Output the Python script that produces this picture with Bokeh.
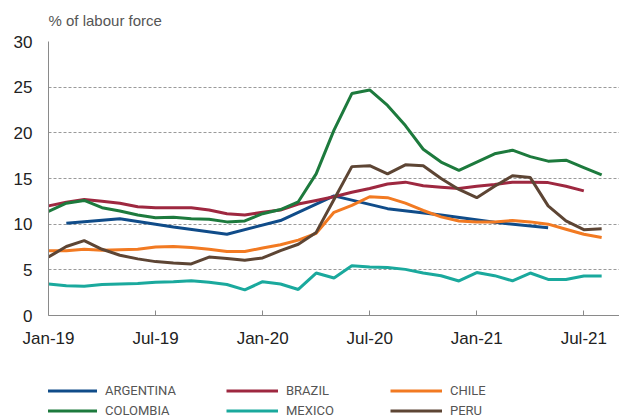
from bokeh.plotting import figure
from bokeh.models import Legend, LegendItem, FixedTicker, Range1d
from bokeh.layouts import column
from bokeh.embed import file_html
from bokeh.resources import INLINE

nan = float("nan")

months = ["Jan-19", "Feb-19", "Mar-19", "Apr-19", "May-19", "Jun-19", "Jul-19", "Aug-19",
          "Sep-19", "Oct-19", "Nov-19", "Dec-19", "Jan-20", "Feb-20", "Mar-20", "Apr-20",
          "May-20", "Jun-20", "Jul-20", "Aug-20", "Sep-20", "Oct-20", "Nov-20", "Dec-20",
          "Jan-21", "Feb-21", "Mar-21", "Apr-21", "May-21", "Jun-21", "Jul-21", "Aug-21"]

tick_labels = ["Jan-19", "Jul-19", "Jan-20", "Jul-20", "Jan-21", "Jul-21"]

# Argentina: quarterly observations
argentina_months = ["Feb-19", "May-19", "Aug-19", "Nov-19", "Feb-20", "May-20",
                    "Aug-20", "Nov-20", "Feb-21", "May-21"]
argentina = [10.1, 10.6, 9.7, 8.9, 10.4, 13.1, 11.7, 11.0, 10.2, 9.6]

brazil = [12.0, 12.4, 12.7, 12.5, 12.3, 11.9, 11.8, 11.8, 11.8, 11.55, 11.15, 11.0,
          11.3, 11.55, 12.2, 12.6, 13.0, 13.5, 13.9, 14.4, 14.6, 14.2, 14.05, 13.9,
          14.15, 14.35, 14.6, 14.6, 14.55, 14.15, 13.65, nan]

chile = [7.1, 7.1, 7.25, 7.15, 7.2, 7.25, 7.5, 7.55, 7.45, 7.25, 7.0, 7.0,
         7.4, 7.75, 8.25, 9.0, 11.3, 12.05, 13.0, 12.9, 12.3, 11.5, 10.8, 10.35,
         10.25, 10.25, 10.4, 10.25, 10.0, 9.45, 8.9, 8.55]

colombia = [11.4, 12.3, 12.6, 11.8, 11.45, 11.0, 10.7, 10.75, 10.6, 10.55, 10.25, 10.35,
            11.15, 11.6, 12.45, 15.5, 20.3, 24.3, 24.7, 23.0, 20.8, 18.2, 16.8, 15.9,
            16.8, 17.7, 18.1, 17.4, 16.9, 17.0, 16.2, 15.4]

mexico = [3.45, 3.27, 3.2, 3.4, 3.45, 3.5, 3.65, 3.7, 3.8, 3.65, 3.4, 2.8,
          3.7, 3.45, 2.85, 4.65, 4.1, 5.45, 5.3, 5.25, 5.05, 4.65, 4.35, 3.78,
          4.7, 4.36, 3.8, 4.65, 3.95, 3.95, 4.33, 4.32]

peru = [6.4, 7.55, 8.2, 7.25, 6.6, 6.2, 5.9, 5.75, 5.65, 6.4, 6.25, 6.05,
        6.3, 7.1, 7.8, 9.1, 12.7, 16.3, 16.4, 15.5, 16.5, 16.4, 15.0, 13.8,
        12.9, 14.15, 15.3, 15.1, 12.0, 10.35, 9.4, 9.5]

colors = {
    "ARGENTINA": "#104c89",
    "BRAZIL": "#9e2840",
    "CHILE": "#f27a22",
    "COLOMBIA": "#1d7a3d",
    "MEXICO": "#1aa99d",
    "PERU": "#5d4534",
}

x_all = list(range(len(months)))
x_arg = [months.index(m) for m in argentina_months]

series = {
    "ARGENTINA": (x_arg, argentina),
    "BRAZIL": (x_all, brazil),
    "CHILE": (x_all, chile),
    "COLOMBIA": (x_all, colombia),
    "MEXICO": (x_all, mexico),
    "PERU": (x_all, peru),
}

p = figure(width=619, height=350, output_backend="svg", toolbar_location=None,
           x_range=Range1d(0, 32), y_range=Range1d(0, 30),
           min_border_left=48, min_border_right=0, min_border_top=41,
           min_border_bottom=33, title="% of labour force")
p.outline_line_color = None
p.background_fill_color = "white"
p.border_fill_color = "white"

p.title.text_font = "Liberation Sans"
p.title.text_font_size = "15px"
p.title.text_font_style = "normal"
p.title.text_color = "#555555"
p.title.align = "left"
p.title.vertical_align = "top"
p.title.standoff = 21

for name, (xs, ys) in series.items():
    p.line(xs, ys, line_color=colors[name], line_width=3)

# axes
xa = p.xaxis[0]
xa.ticker = FixedTicker(ticks=[months.index(m) for m in tick_labels])
xa.major_label_overrides = {months.index(m): m for m in tick_labels}
xa.major_tick_in = 5
xa.major_tick_out = 0
xa.minor_tick_in = 0
xa.minor_tick_out = 0
xa.axis_line_color = "#8a8a8a"
xa.major_tick_line_color = "#8a8a8a"
xa.major_label_text_font = "Liberation Sans"
xa.major_label_text_font_size = "17px"
xa.major_label_text_color = "#222222"
xa.major_label_standoff = 13

ya = p.yaxis[0]
ya.ticker = FixedTicker(ticks=[0, 5, 10, 15, 20, 25, 30])
ya.major_tick_in = 0
ya.major_tick_out = 0
ya.minor_tick_in = 0
ya.minor_tick_out = 0
ya.axis_line_color = "#8a8a8a"
ya.major_label_text_font = "Liberation Sans"
ya.major_label_text_font_size = "17px"
ya.major_label_text_color = "#222222"
ya.major_label_standoff = 16

p.xgrid.grid_line_color = None
p.ygrid.ticker = FixedTicker(ticks=[5, 10, 15, 20, 25, 30])
p.ygrid.grid_line_color = "#9a9a9a"
p.ygrid.grid_line_dash = "3 2"
p.ygrid.grid_line_width = 1

# legend strip (separate figure below the chart); its ranges keep the
# series themselves out of view so that only the legend shows
lf = figure(width=619, height=69, output_backend="svg", toolbar_location=None,
            x_range=Range1d(100, 101), y_range=Range1d(100, 101),
            x_axis_type=None, y_axis_type=None, min_border=0)
lf.outline_line_color = None
lf.xgrid.visible = False
lf.ygrid.visible = False
lf.background_fill_color = "white"
lf.border_fill_color = "white"

legend_columns = [["ARGENTINA", "COLOMBIA"], ["BRAZIL", "MEXICO"], ["CHILE", "PERU"]]
legend_x = [-3, 178, 342]
for names, lx in zip(legend_columns, legend_x):
    items = []
    for n in names:
        xs, ys = series[n]
        r = lf.line(xs, ys, line_color=colors[n], line_width=3)
        items.append(LegendItem(label=n, renderers=[r]))
    lg = Legend(items=items, location=(lx, -1), orientation="vertical",
                padding=0, margin=0, spacing=1,
                glyph_width=52, glyph_height=19, label_height=19,
                label_standoff=8,
                label_text_font="Roboto",
                label_text_font_size="13px",
                label_text_color="#555555",
                border_line_color=None, background_fill_alpha=0)
    lf.add_layout(lg, "center")

layout = column(p, lf, spacing=0)
open("out.html", "w").write(file_html(layout, INLINE))
